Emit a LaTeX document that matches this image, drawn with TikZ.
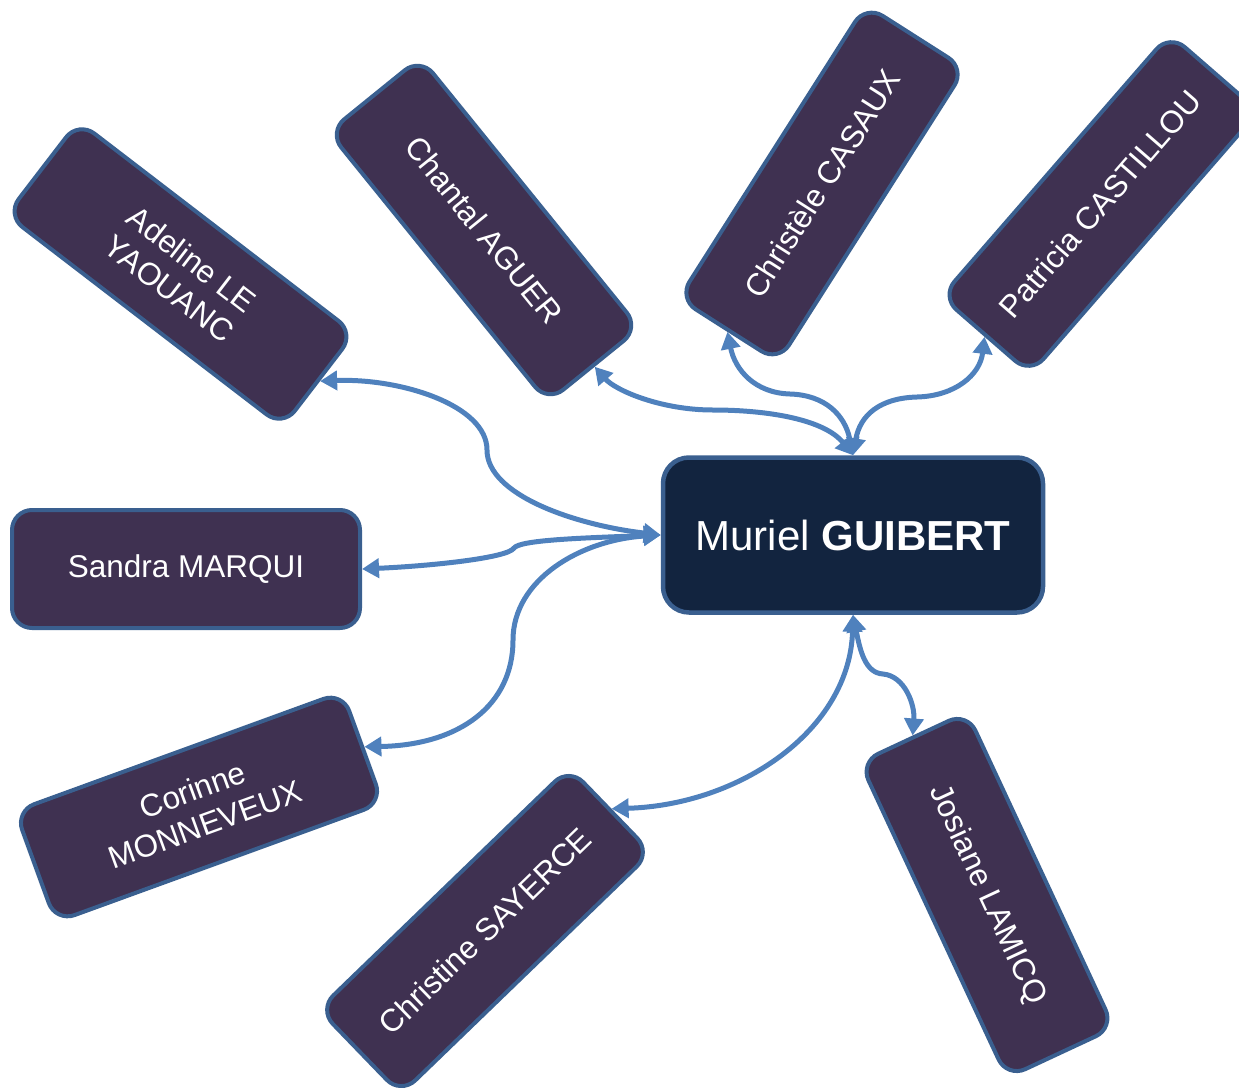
\documentclass[tikz,border=0pt]{standalone}
\usepackage{fontspec}
\setmainfont{Liberation Sans}
\usetikzlibrary{arrows.meta}
\definecolor{purp}{HTML}{3F3151}
\definecolor{navy}{HTML}{12243F}
\definecolor{bordc}{HTML}{3A5F8F}
\definecolor{linkc}{HTML}{4F81BD}
\tikzset{
  person/.style={draw=bordc, fill=purp, line width=4pt, rounded corners=20pt,
    minimum width=348pt, minimum height=118pt, inner sep=0pt, text=white,
    align=center, font=\fontsize{31.5}{37}\selectfont},
  centre/.style={draw=bordc, fill=navy, line width=4.5pt, rounded corners=26pt,
    minimum width=380pt, minimum height=155pt, inner sep=0pt, text=white,
    font=\fontsize{42}{50}\selectfont},
  conn/.style={draw=linkc, line width=5pt,
    {Triangle[length=17pt,width=19pt]}-{Triangle[length=17pt,width=19pt]}}
}
\begin{document}
\begin{tikzpicture}[x=1pt,y=-1pt]
\useasboundingbox (0,0) rectangle (1239,1087);
\clip (0,0) rectangle (1239,1087);
\node[centre] (m) at (853,535) {Muriel \textbf{GUIBERT}};
\node[person, rotate=-37.5] (a) at (180.5,274) {Adeline LE\\YAOUANC};
\node[person, rotate=-51] (c) at (484,230) {Chantal AGUER};
\node[person, rotate=57.5] (ce) at (822,183.5) {Christèle CASAUX};
\node[person, rotate=49] (p) at (1100,204) {Patricia CASTILLOU};
\node[person] (s) at (186,569) {\raisebox{-3pt}{Sandra MARQUI}};
\node[person, rotate=20] (co) at (199,807) {Corinne\\MONNEVEUX};
\node[person, rotate=44] (cs) at (485,931) {Christine SAYERCE};
\node[person, rotate=-65] (j) at (987,895) {Josiane LAMICQ};
% connectors
\draw[conn] (m.west) .. controls (575,525) and (487,495) .. (487,450)
  .. controls (487,405) and (400,378) .. (a.east);
\draw[conn] (m.west) .. controls (580,538) and (520,540) .. (514,548)
  .. controls (508,558) and (430,566) .. (s.east);
\draw[conn] (m.west) .. controls (580,540) and (513,580) .. (513,640)
  .. controls (513,705) and (460,745) .. (co.east);
\draw[conn] (m.north) .. controls (825,420) and (770,410) .. (713,410)
  .. controls (660,410) and (615,390) .. (c.east);
\draw[conn] (m.north) .. controls (845,415) and (825,395) .. (790,394)
  .. controls (755,393) and (735,370) .. (ce.west);
\draw[conn] (m.north) .. controls (860,415) and (880,398) .. (917,397)
  .. controls (955,396) and (980,375) .. (p.west);
\draw[conn] (m.south) .. controls (850,730) and (740,805) .. (cs.east);
\draw[conn] (m.south) .. controls (860,650) and (865,673) .. (883,674)
  .. controls (905,676) and (915,705) .. (j.west);
\end{tikzpicture}
\end{document}
